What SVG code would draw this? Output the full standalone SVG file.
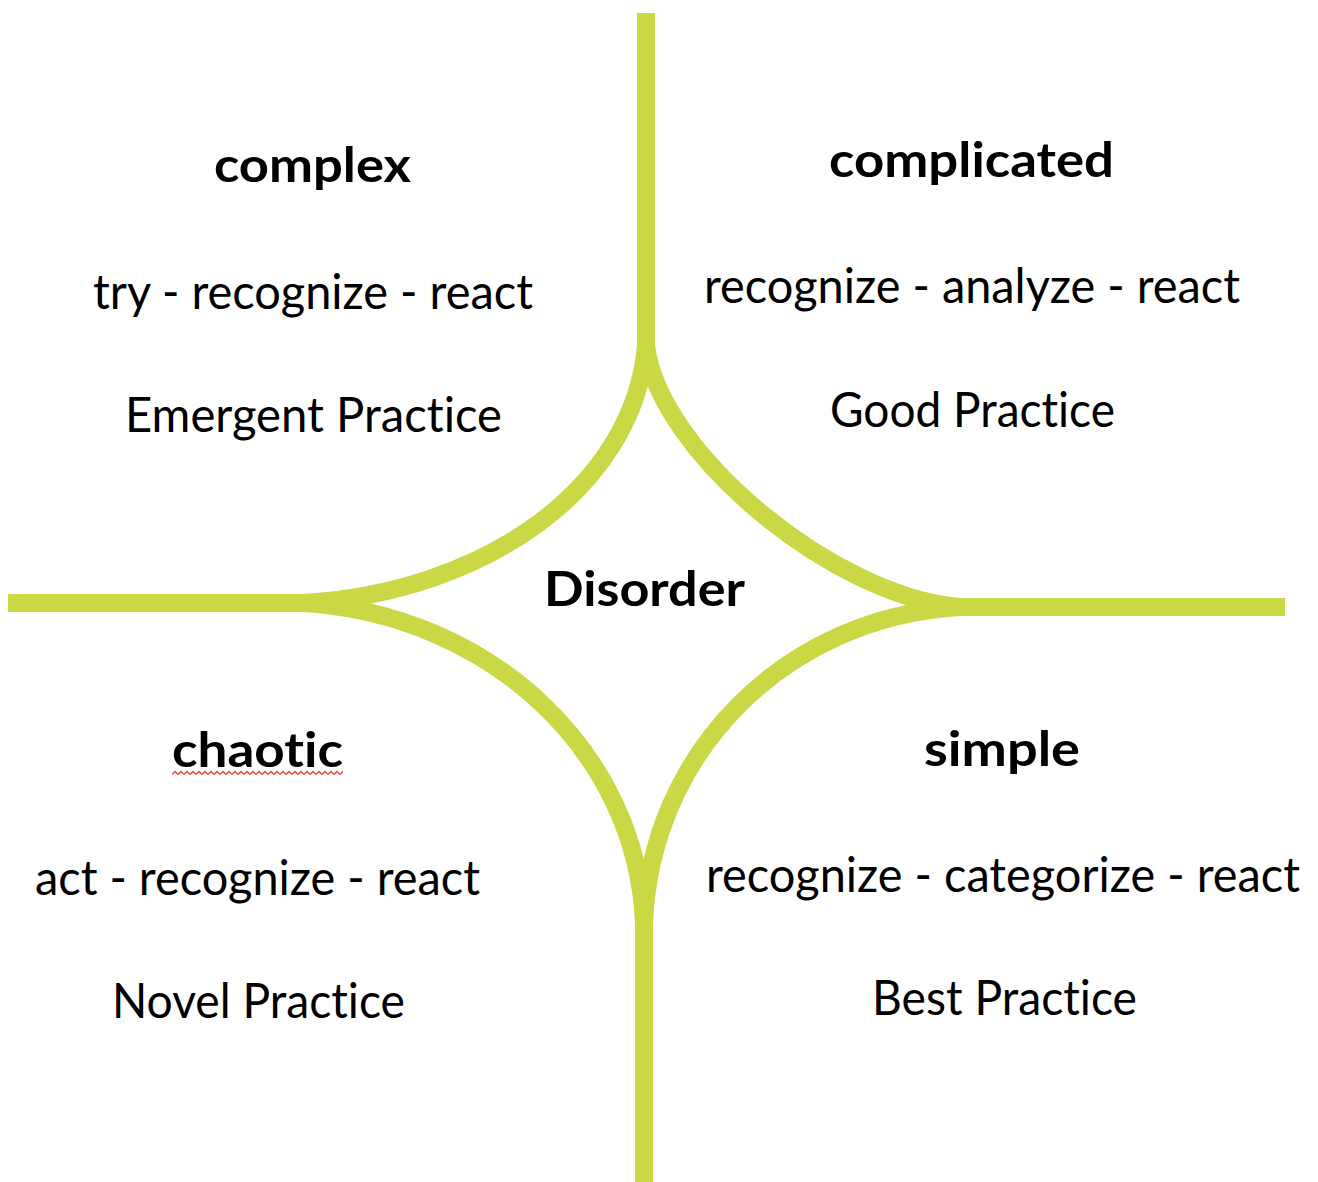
<svg xmlns="http://www.w3.org/2000/svg" width="1318" height="1182" viewBox="0 0 1318 1182">
<style>
.ln{fill:none;stroke:#CBD845;stroke-width:18;stroke-linecap:butt;stroke-linejoin:round}
.t{font-family:Lato,"Open Sans","Liberation Sans",sans-serif;font-size:48px;fill:#000;font-variant-ligatures:none}
.b{font-weight:bold}
</style>
<defs>
<pattern id="wavy" patternUnits="userSpaceOnUse" x="172" y="770" width="6" height="6">
<path d="M0,4.6 L3,1.4 L6,4.6" fill="none" stroke="#E04A45" stroke-width="1.4"/>
</pattern>
</defs>
<rect width="1318" height="1182" fill="#fff"/>
<g id="connectors">
<path class="ln" d="M646,13 V350"/>
<path class="ln" d="M8,603 H310"/>
<path class="ln" d="M955,607 H1285"/>
<path class="ln" d="M644,940 V1182"/>
<path class="ln" d="M303,603 C485,592 634,488 646,345"/>
<path class="ln" d="M646,345 C658,452 834,597 960,607"/>
<path class="ln" d="M303,603 C490,614 638,752 644,925 V955"/>
<path class="ln" d="M960,607 C786,617 650,752 644,925 V955"/>
</g>
<g id="complex">
<text class="t b" x="214" y="182" textLength="197" lengthAdjust="spacingAndGlyphs">complex</text>
<text class="t" x="93" y="309" textLength="440" lengthAdjust="spacingAndGlyphs">try - recognize - react</text>
<text class="t" x="125" y="432" textLength="377" lengthAdjust="spacingAndGlyphs">Emergent Practice</text>
</g>
<g id="complicated">
<text class="t b" x="829" y="177" textLength="285" lengthAdjust="spacingAndGlyphs">complicated</text>
<text class="t" x="704" y="303" textLength="536" lengthAdjust="spacingAndGlyphs">recognize - analyze - react</text>
<text class="t" x="830" y="427" textLength="285" lengthAdjust="spacingAndGlyphs">Good Practice</text>
</g>
<g id="disorder">
<text class="t b" x="544" y="606" textLength="201" lengthAdjust="spacingAndGlyphs">Disorder</text>
</g>
<g id="chaotic">
<text class="t b" x="172" y="767" textLength="171" lengthAdjust="spacingAndGlyphs">chaotic</text>
<rect x="172" y="770" width="171" height="6" fill="url(#wavy)"/>
<text class="t" x="35" y="895" textLength="445" lengthAdjust="spacingAndGlyphs">act - recognize - react</text>
<text class="t" x="112" y="1018" textLength="293" lengthAdjust="spacingAndGlyphs">Novel Practice</text>
</g>
<g id="simple">
<text class="t b" x="924" y="766" textLength="156" lengthAdjust="spacingAndGlyphs">simple</text>
<text class="t" x="706" y="892" textLength="594" lengthAdjust="spacingAndGlyphs">recognize - categorize - react</text>
<text class="t" x="872" y="1015" textLength="265" lengthAdjust="spacingAndGlyphs">Best Practice</text>
</g>
</svg>
